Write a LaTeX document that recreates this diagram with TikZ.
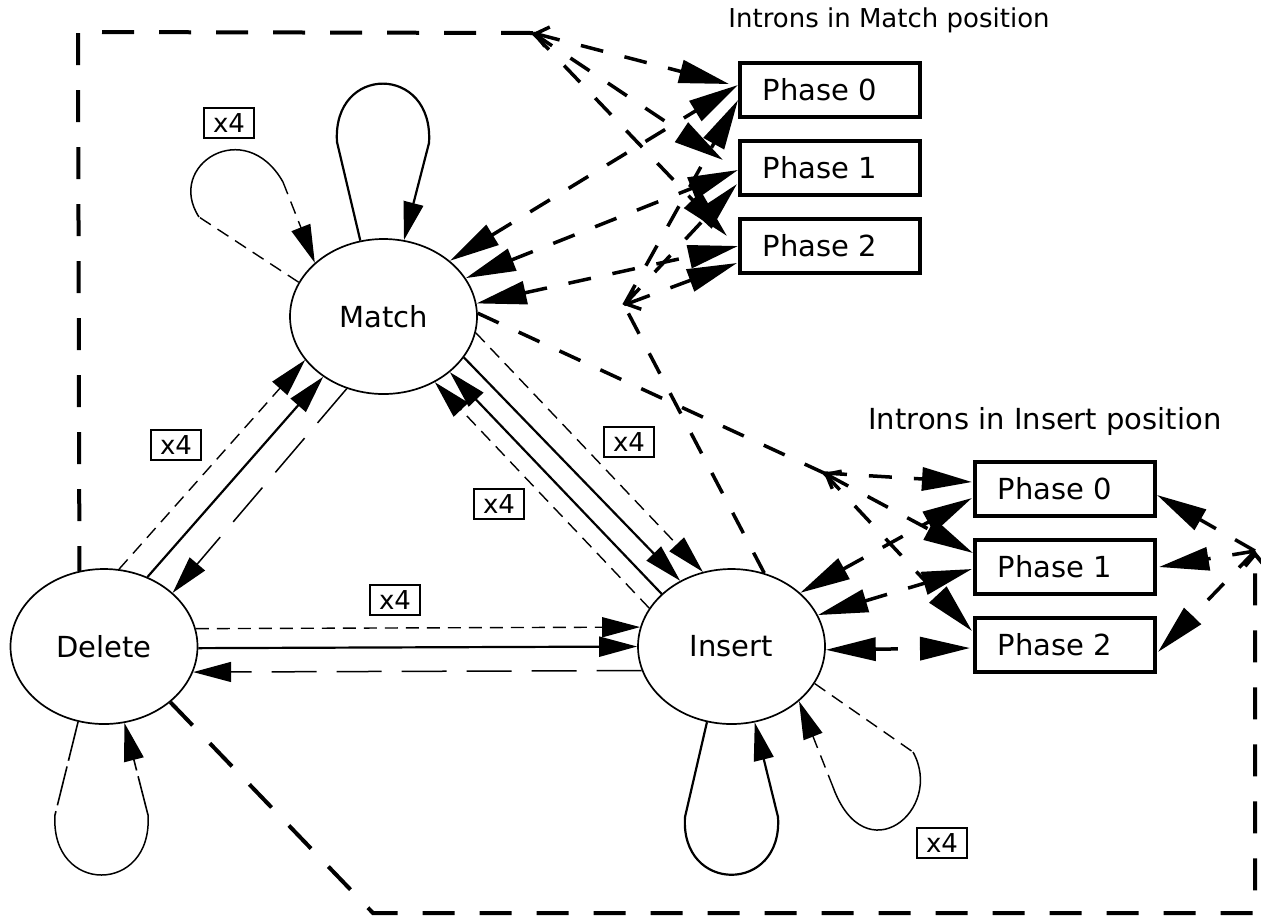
\documentclass[tikz,border=0pt]{standalone}
\usepackage{fontspec}
\setmainfont{DejaVu Sans}
\usetikzlibrary{shapes.geometric,arrows.meta,positioning,calc}

\begin{document}
\begin{tikzpicture}[
    x=0.5pt, y=-0.5pt,
    node distance=12pt,
    every node/.style={font=\fontsize{14.5}{17}\selectfont},
    state/.style={ellipse,draw,line width=0.85pt,minimum width=93.5pt,minimum height=77.5pt,inner sep=0pt},
    phasebox/.style={draw,line width=1.65pt,minimum width=90pt,minimum height=27pt,inner sep=0pt,outer sep=0pt},
    xfour/.style={draw,line width=0.7pt,minimum width=25pt,minimum height=15pt,inner sep=0pt,font=\fontsize{13}{15}\selectfont},
    title/.style={anchor=base west,inner sep=0pt},
    >={Triangle[length=19pt,width=10pt]},
    solidline/.style={line width=1.1pt},
    shortdash/.style={line width=0.7pt,dash pattern=on 6.5pt off 4pt},
    longdash/.style={line width=0.75pt,dash pattern=on 22.5pt off 10pt},
    loopdash/.style={line width=0.8pt,dash pattern=on 20pt off 3pt},
    intron/.style={line width=1.75pt,dash pattern=on 11.5pt off 11pt,>={Triangle[length=25pt,width=11.5pt]}},
    outerpath/.style={line width=2pt,dash pattern=on 16pt off 12.5pt}
  ]
    \useasboundingbox (0,0) rectangle (1261,917);

    % states
    \node (match)  [state] at (383.5,316.5) {Match};
    \node (delete) [state] at (104,646.5) {Delete};
    \node (insert) [state] at (731.5,646.5) {Insert};

    % intron boxes
    \node (mtitle) [title,font=\fontsize{13}{15}\selectfont] at (728,27) {Introns in Match position};
    \node (mp0) [phasebox] at (830,90) {Phase 0\hspace*{10pt}};
    \node (mp1) [phasebox,below=of mp0] {Phase 1\hspace*{10pt}};
    \node (mp2) [phasebox,below=of mp1] {Phase 2\hspace*{10pt}};
    \node (ititle) [title] at (868,429) {Introns in Insert position};
    \node (ip0) [phasebox] at (1065,489) {Phase 0\hspace*{10pt}};
    \node (ip1) [phasebox,below=of ip0] {Phase 1\hspace*{10pt}};
    \node (ip2) [phasebox,below=of ip1] {Phase 2\hspace*{10pt}};

    % x4 labels
    \node (xm)  [xfour] at (229,123) {x4};
    \node (xdm) [xfour] at (176,445) {x4};
    \node (xmi) [xfour] at (629,442) {x4};
    \node (xim) [xfour] at (499,504) {x4};
    \node (xdi) [xfour] at (395,600) {x4};
    \node (xi)  [xfour] at (942,843) {x4};

    \coordinate (topc) at (533,33);
    \coordinate (ihub) at (624,305);
    \coordinate (mhub) at (824,473);
    \coordinate (rightc) at (1255,551);
    \coordinate (tl) at (78,32);
    \coordinate (bl) at (373,913);
    \coordinate (br) at (1255,913);

    % outer loop through delete
    \draw[outerpath] (topc) -- (tl) -- (delete.108.5);
    \draw[outerpath,-{Straight Barb[length=6pt,width=10pt]}] (delete.-40) -- (bl) -- (br) -- (rightc);

    % match position introns
    \draw[intron,{Straight Barb[length=6pt,width=10pt]}->] (topc) -- ($(mp0.west)+(-11,-6)$);
    \draw[intron,->] (topc) -- ($(mp1.west)+(-17,-8)$);
    \draw[intron,->] (topc) -- ($(mp2.west)+(-13,-10)$);
    \draw[intron,<->] (match.40.5) -- ($(mp0.west)+(-2,-5)$);
    \draw[intron,<->] (match.25.1) -- ($(mp1.west)+(-2,2)$);
    \draw[intron,<->] (match.8.6) -- ($(mp2.west)+(-2,0)$);
    \draw[intron] (insert.66.8) -- (ihub);
    \draw[intron,->] (ihub) -- ($(mp0.west)+(-2,10)$);
    \draw[intron,->] (ihub) -- ($(mp1.west)+(-3,16)$);
    \draw[intron,{Straight Barb[length=6pt,width=10pt]}->] (ihub) -- ($(mp2.west)+(-3,17)$);

    % insert position introns
    \draw[intron] (match.2.1) -- (mhub);
    \draw[intron,->] (mhub) -- ($(ip0.west)+(-3,-7)$);
    \draw[intron,{Straight Barb[length=6pt,width=10pt]}->] (mhub) -- ($(ip1.west)+(-2,-14)$);
    \draw[intron,->] (mhub) -- ($(ip2.west)+(-3,-14)$);
    \draw[intron,<->] (insert.38.7) -- ($(ip0.west)+(-3,9)$);
    \draw[intron,<->] (insert.20) -- ($(ip1.west)+(-3,2)$);
    \draw[intron,<->] (insert.-2.7) -- ($(ip2.west)+(-5,3)$);
    \draw[intron,->] (rightc) -- ($(ip0.east)+(2,6)$);
    \draw[intron,->] (rightc) -- ($(ip1.east)+(4,0)$);
    \draw[intron,->] (rightc) -- ($(ip2.east)+(3,7)$);

    % transitions
    \draw[shortdash,->] (delete.79) -- (match.209.2);
    \draw[solidline,->] (delete.58) -- (match.225.5);
    \draw[longdash,->] (match.243.3) -- (delete.38.8);
    \draw[shortdash,->] (match.-10.5) -- (insert.111);
    \draw[solidline,->] (match.-27) -- (insert.128.7);
    \draw[solidline,->] (insert.143.9) -- (match.-40.6);
    \draw[shortdash,->] (insert.155) -- (match.-52.4);
    \draw[shortdash,->] (delete.11.8) -- (insert.168.2);
    \draw[solidline,->] (delete.-1.5) -- (insert.180.9);
    \draw[longdash,->] (insert.195.8) -- (delete.-16);

    % self loops
    \draw[solidline,->] (match.107.5) -- (337,142) .. controls (332,64) and (434,64) .. (429,143) -- (match.75.2);
    \draw[shortdash] (match.158.6) -- (199,217);
    \draw[line width=0.75pt] (199,217) .. controls (165,165) and (245,115) .. (283,182);
    \draw[shortdash,->] (283,182) -- (match.142.3);
    \draw[loopdash] (delete.251) -- (55,815);
    \draw[line width=0.75pt] (55,815) .. controls (50,895) and (153,895) .. (148,815);
    \draw[loopdash,->] (148,815) -- (delete.285.5);
    \draw[solidline,->] (insert.252.3) -- (685,817) .. controls (680,894) and (783,894) .. (778,817) -- (insert.287.3);
    \draw[shortdash] (insert.336.6) -- (913,752);
    \draw[line width=0.75pt] (913,752) .. controls (945,810) and (865,875) .. (833,787);
    \draw[shortdash,->] (833,787) -- (insert.321.5);
  \end{tikzpicture}
\end{document}
